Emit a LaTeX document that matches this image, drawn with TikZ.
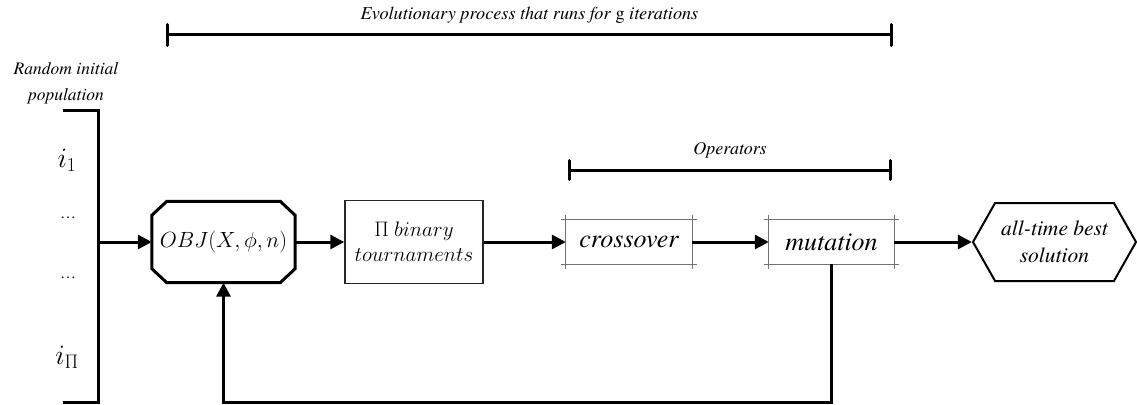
\documentclass[tikz,border=0pt]{standalone}
\usepackage{fix-cm}
\usepackage{fontspec}
\setmainfont{texgyretermes}[
  Extension=.otf,
  UprightFont=*-regular,
  ItalicFont=*-italic,
  BoldFont=*-bold,
  BoldItalicFont=*-bolditalic]
\newfontfamily\labelfont{texgyretermes}[
  Extension=.otf,
  UprightFont=*-regular,
  ItalicFont=*-italic]

\newcommand{\fsz}[2]{\fontsize{#1}{#2}\selectfont}

\usetikzlibrary{arrows.meta,calc,shapes.symbols}

\begin{document}
\begin{tikzpicture}[x=1pt,y=-1pt,
  heavy/.style={line width=3pt},
  flow/.style={heavy,-{Triangle[length=14pt,width=14pt]}},
  span/.style={heavy,{Bar[width=21pt,round]}-{Bar[width=21pt,round]}},
  caption/.style={font=\labelfont\fsz{17.5}{26}\itshape,align=center,inner sep=0pt},
  blockmath/.style={font=\fsz{21}{25},align=center,inner sep=0pt},
  opbox/.style={minimum width=126pt,minimum height=44pt,inner sep=0pt,font=\labelfont\fsz{26}{30}\itshape},
  crop/.style={draw=black!55,line width=1pt},
  member/.style={font=\fsz{28}{30},inner sep=0pt},
  dots/.style={font=\labelfont\fsz{16}{16},inner sep=0pt}
]
\useasboundingbox (0,0) rectangle (1137,404);

% span of the whole evolutionary loop
\coordinate (gL) at (166,35);
\coordinate (gR) at (893,35);
\draw[span] (gL) -- (gR);
\node[caption,font=\labelfont\fsz{18.2}{22}\itshape] (gtext) at (529.5,15) {Evolutionary process that runs for \textup{g} iterations};

% span of the genetic operators
\coordinate (oL) at (568,170);
\coordinate (oR) at (892,170);
\draw[heavy,{Bar[width=19pt,round]}-{Bar[width=19pt,round]}] (oL) -- (oR);
\node[caption,font=\labelfont\fsz{18}{22}\itshape] (otext) at (730,150) {Operators};

% initial population bracket
\node[caption] (poptext) at (66,83) {Random initial\\population};
\coordinate (bT) at (63,110);
\coordinate (bB) at (63,402);
\coordinate (pop) at (98,242);
\draw[heavy] (bT) -| (pop) |- (bB);
\node[member] (i1) at (67,160) {$i_1$};
\node[dots] (d1) at (68,218) {\dots};
\node[dots] (d2) at (68,278) {\dots};
\node[member] (ip) at (67,357) {$i_\Pi$};

% objective evaluation (octagon)
\node[minimum width=143pt,minimum height=81pt,inner sep=0pt,font=\fsz{22}{26}] (obj) at (223.5,242) {$OBJ(X,\phi,n)$};
\draw[heavy] ($(obj.north west)+(15,0)$) -- ($(obj.north east)+(-15,0)$)
  -- ($(obj.north east)+(0,14)$) -- ($(obj.south east)+(0,-14)$)
  -- ($(obj.south east)+(-15,0)$) -- ($(obj.south west)+(15,0)$)
  -- ($(obj.south west)+(0,-14)$) -- ($(obj.north west)+(0,14)$) -- cycle;

% selection
\node[draw=black!85,line width=1.5pt,minimum width=138pt,minimum height=83pt,blockmath] (bt) at (414,242) {$\Pi\ binary$\\$tournaments$};

% operators
\node[opbox] (co) at (629,242) {crossover};
\node[opbox,minimum width=125pt] (mu) at (831.5,242) {mutation};
\foreach \b in {co,mu}{
  \draw[crop] ($(\b.north west)+(-5,0)$) -- ($(\b.north east)+(5,0)$);
  \draw[crop] ($(\b.south west)+(-5,0)$) -- ($(\b.south east)+(5,0)$);
  \draw[crop] ($(\b.north west)+(0,-5)$) -- ($(\b.south west)+(0,5)$);
  \draw[crop] ($(\b.north east)+(0,-5)$) -- ($(\b.south east)+(0,5)$);
}

% result
\node[signal,signal to=west and east,signal pointer angle=121,draw,line width=2pt,
  minimum width=163pt,minimum height=78pt,inner sep=0pt,
  font=\labelfont\fsz{21.5}{27}\itshape,align=center] (best) at (1054.5,242) {all-time best\\solution};

% flow
\draw[flow] (pop) -- (obj.west);
\draw[flow] (obj.east) -- (bt.west);
\draw[flow] (bt.east) -- (co.west);
\draw[flow] (co.east) -- (mu.west);
\draw[flow] (mu.east) -- (best.west);
\coordinate (back) at (223.5,402);
\draw[flow] (mu.south) |- (back) -- (obj.south);
\end{tikzpicture}
\end{document}
